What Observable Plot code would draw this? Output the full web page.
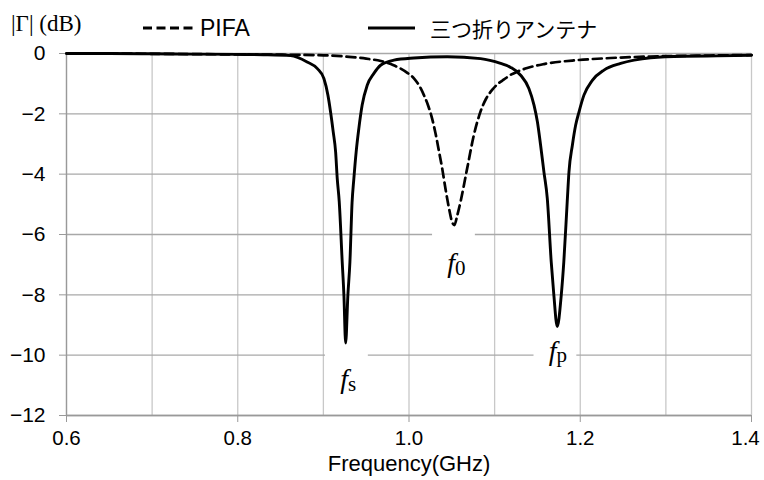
<!DOCTYPE html>
<html><head><meta charset="utf-8">
<script src="https://cdn.jsdelivr.net/npm/d3@7"></script>
<script src="https://cdn.jsdelivr.net/npm/@observablehq/plot@0.6"></script>
<style>
html,body{margin:0;padding:0;background:#fff;}
#wrap{width:764px;height:480px;position:relative;overflow:hidden;background:#fff;}
#legend{position:relative;width:764px;height:40px;}
#legend span{position:absolute;line-height:40px;height:40px;white-space:nowrap;color:#000;}
#chart svg{display:block;}
</style></head>
<body>
<div id="wrap">
  <div id="legend"></div>
  <div id="chart"></div>
</div>
<script>
// ---- data ----
const seriesNames = ["PIFA", "三つ折りアンテナ"];
const yAxisTitle = "|Γ| (dB)";
const xAxisTitle = "Frequency(GHz)";

const freqPIFA = [0.60,0.65,0.70,0.75,0.80,0.85,0.90,0.93,0.95,0.967,0.982,0.998,1.006,1.0136,1.0174,1.022,1.027,1.031,1.035,1.039,1.0427,1.0465,1.0505,1.053,1.0565,1.0603,1.068,1.0758,1.0836,1.090,1.0973,1.104,1.111,1.118,1.1265,1.138,1.1576,1.1965,1.2355,1.282,1.34,1.40];
const dbPIFA   = [0,0,-0.01,-0.02,-0.03,-0.04,-0.06,-0.11,-0.17,-0.25,-0.39,-0.64,-0.83,-1.15,-1.38,-1.7,-2.16,-2.65,-3.24,-3.85,-4.5,-5.1,-5.6,-5.69,-5.35,-4.9,-3.8,-2.7,-1.92,-1.5,-1.2,-1.0,-0.86,-0.72,-0.6,-0.48,-0.35,-0.22,-0.15,-0.1,-0.07,-0.05];

const freqTri = [0.60,0.65,0.70,0.75,0.80,0.83,0.8617,0.881,0.893,0.9006,0.9053,0.9084,0.9115,0.9143,0.9162,0.9185,0.922,0.924,0.926,0.9286,0.931,0.9335,0.9356,0.9383,0.9414,0.9453,0.9512,0.959,0.9668,0.9824,1.0057,1.0447,1.0836,1.107,1.1187,1.1304,1.14,1.146,1.15,1.1537,1.1576,1.1615,1.1661,1.1692,1.1731,1.1778,1.1808,1.1848,1.1868,1.1908,1.1946,1.1985,1.2043,1.2141,1.2277,1.2472,1.2628,1.2822,1.3212,1.36,1.40];
const dbTri   = [0,0,-0.01,-0.02,-0.03,-0.04,-0.07,-0.28,-0.50,-0.83,-1.38,-1.94,-2.6,-3.26,-4.15,-4.9,-6.91,-8.02,-9.6,-8.02,-6.91,-4.95,-4.15,-3.26,-2.49,-1.71,-1.05,-0.66,-0.39,-0.22,-0.15,-0.11,-0.17,-0.33,-0.46,-0.72,-1.16,-1.71,-2.27,-3.04,-3.93,-4.8,-6.91,-8.02,-9.05,-8.02,-6.91,-4.9,-3.93,-3.04,-2.38,-1.94,-1.38,-0.89,-0.55,-0.33,-0.22,-0.14,-0.09,-0.08,-0.06];

const xGridTicks = [0.6,0.7,0.8,0.9,1.0,1.1,1.2,1.3,1.4];
const xTickLabels = [0.6,0.8,1.0,1.2,1.4];
const yTicks = [0,-2,-4,-6,-8,-10,-12];

const peakSubs = ["0","s","p"];
const peakX = [1.0525,0.9275,1.171];
const peakY = [-6.95,-10.8,-9.85];

// ---- legend (HTML above the svg) ----
const leg = document.getElementById("legend");
leg.innerHTML = `
 <span style="left:11px;top:4px;font-family:'Liberation Serif',serif;font-size:23px;">${yAxisTitle}</span>
 <svg width="764" height="40" style="position:absolute;left:0;top:0">
   <line x1="143" x2="193" y1="28" y2="28" stroke="#000" stroke-width="3" stroke-dasharray="9,4.5"/>
   <line x1="368" x2="415" y1="28" y2="28" stroke="#000" stroke-width="3"/>
 </svg>
 <span style="left:200px;top:8px;font-family:'Liberation Sans',Arial,sans-serif;font-size:23px;">${seriesNames[0]}</span>
 <span style="left:430px;top:8px;font-family:'Noto Sans CJK JP',sans-serif;font-size:21px;">${seriesNames[1]}</span>`;

// ---- chart ----
const pifa = freqPIFA.map((f,i)=>({f, db: dbPIFA[i]}));
const tri = freqTri.map((f,i)=>({f, db: dbTri[i]}));
const labels = peakSubs.map((k,i)=>({k, x: peakX[i], y: peakY[i]}));
const xMax = xTickLabels[xTickLabels.length - 1];
const fmt = d => d.toFixed(1);

const chart = Plot.plot({
  width: 764, height: 440,
  marginLeft: 66, marginRight: 13, marginTop: 13, marginBottom: 65,
  style: {fontFamily: "'Liberation Sans', Arial, sans-serif", fontSize: "21px", color: "#000", background: "#fff"},
  x: {domain: [0.6, 1.4]},
  y: {domain: [-12, 0]},
  marks: [
    Plot.gridX(xGridTicks, {stroke: "#c8c8c8", strokeOpacity: 1, strokeWidth: 1.3}),
    Plot.gridY(yTicks, {stroke: "#a8a8a8", strokeOpacity: 1, strokeWidth: 1.3}),
    Plot.rect(labels, {x1: d => d.x - 0.025, x2: d => d.x + 0.025, y1: d => d.y - 1.0, y2: d => d.y + 1.0, fill: "white"}),
    Plot.ruleX([0.6], {stroke: "#999", strokeWidth: 1.3}),
    Plot.ruleY([-12], {stroke: "#999", strokeWidth: 1.3}),
    Plot.axisY(yTicks, {tickSize: 7, tickPadding: 14, stroke: "#999", fontSize: 21, label: null}),
    Plot.axisX(xTickLabels, {tickSize: 7, tickPadding: 8, stroke: "#999", fontSize: 20.5, tickFormat: d => d === xMax ? "" : fmt(d), label: null}),
    Plot.text([xMax], {x: d => d, frameAnchor: "bottom", lineAnchor: "top", dy: 15, dx: -6, fontSize: 20.5, text: fmt}),
    Plot.text([xAxisTitle], {frameAnchor: "bottom", dy: 55, fontSize: 22, text: d => d}),
    Plot.line(pifa, {x: "f", y: "db", stroke: "#000", strokeWidth: 2.7, strokeDasharray: "9,5", curve: "monotone-x"}),
    Plot.line(tri, {x: "f", y: "db", stroke: "#000", strokeWidth: 2.9, curve: "monotone-x"}),
    Plot.text(labels, {x: "x", y: "y", text: () => "f", textAnchor: "end", dx: 1, fontStyle: "italic", fontFamily: "'Liberation Serif', serif", fontSize: 28}),
    Plot.text(labels, {x: "x", y: "y", text: "k", textAnchor: "start", dx: 1, dy: 5, fontFamily: "'Liberation Serif', serif", fontSize: 21})
  ]
});
document.getElementById("chart").appendChild(chart);
</script>
</body></html>
